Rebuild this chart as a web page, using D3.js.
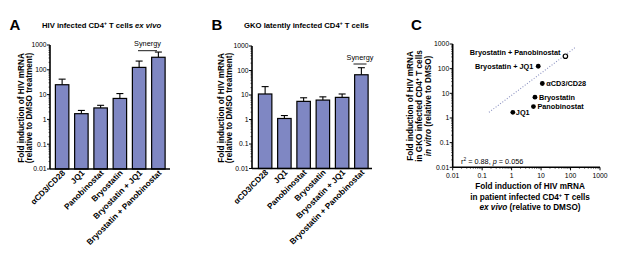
<!DOCTYPE html>
<html><head><meta charset="utf-8">
<script src="https://cdn.jsdelivr.net/npm/d3@7"></script>
<style>body{margin:0;background:#fff}svg{display:block;font-family:"Liberation Sans",Arial,sans-serif}</style>
</head><body><svg id="c" width="617" height="263"></svg>
<script>
const categories = ["\u03B1CD3/CD28","JQ1","Panobinostat","Bryostatin","Bryostatin + JQ1","Bryostatin + Panobinostat"];
const patientMean = [25, 1.7, 2.9, 7, 125, 320];
const patientErr  = [42, 2.3, 3.7, 11, 225, 520];
const gkoMean = [11, 1.1, 5.5, 6.2, 8, 67];
const gkoErr  = [22, 1.45, 7.7, 8.4, 11, 130];
const logTicks = [0.01, 0.1, 1, 10, 100, 1000];
const tickLabels = ["0.01","0.1","1","10","100","1000"];
const fitLineX = [0.17, 144];
const fitLineY = [1.7, 720];

const svg = d3.select("#c");
const barColor = "#7f87c3";

function minorVals(){const v=[];for(let e=-2;e<3;e++){for(let m=2;m<10;m++)v.push(m*Math.pow(10,e));}return v;}

function yAxis(g, y, x0){
  g.append("line").attr("x1",x0).attr("x2",x0).attr("y1",y.range()[0]).attr("y2",y.range()[1]).attr("stroke","#000").attr("stroke-width",1.6);
  minorVals().forEach(v=>g.append("line").attr("x1",x0-1.5).attr("x2",x0).attr("y1",y(v)).attr("y2",y(v)).attr("stroke","#000").attr("stroke-width",0.6));
  logTicks.forEach((v,i)=>{
    g.append("line").attr("x1",x0-3).attr("x2",x0).attr("y1",y(v)).attr("y2",y(v)).attr("stroke","#000").attr("stroke-width",1);
    g.append("text").attr("x",x0-3.5).attr("y",y(v)+2.4).attr("text-anchor","end").attr("font-size",6.8).text(tickLabels[i]);
  });
}

function barPanel(opt){
  const g = svg.append("g");
  const y = d3.scaleLog().domain([0.01,1000]).range([opt.yb, opt.yt]);
  const x = d3.scaleBand().domain(categories).range([opt.bx0, opt.bx1]).paddingInner(0.3).paddingOuter(0.15);
  categories.forEach((c,i)=>{
    const cx = x(c)+x.bandwidth()/2;
    g.append("line").attr("x1",cx).attr("x2",cx).attr("y1",y(opt.mean[i])).attr("y2",y(opt.err[i])).attr("stroke","#000").attr("stroke-width",1.1);
    g.append("line").attr("x1",cx-3.5).attr("x2",cx+3.5).attr("y1",y(opt.err[i])).attr("y2",y(opt.err[i])).attr("stroke","#000").attr("stroke-width",1.1);
    g.append("rect").attr("x",x(c)).attr("width",x.bandwidth()).attr("y",y(opt.mean[i])).attr("height",y(0.01)-y(opt.mean[i]))
      .attr("fill",barColor).attr("stroke","#000").attr("stroke-width",1.2);
    g.append("text").attr("transform",`translate(${cx+3.5},${opt.yb+4.5}) rotate(-45)`).attr("text-anchor","end")
      .attr("font-size",8.2).attr("font-weight","bold").text(c);
  });
  g.append("line").attr("x1",opt.ax).attr("x2",opt.ax1).attr("y1",opt.yb).attr("y2",opt.yb).attr("stroke","#000").attr("stroke-width",1.6);
  yAxis(g, y, opt.ax);
  g.append("line").attr("x1",opt.syn[0]).attr("x2",opt.syn[1]).attr("y1",opt.syn[2]).attr("y2",opt.syn[2]).attr("stroke","#000").attr("stroke-width",0.9);
  g.append("text").attr("x",(opt.syn[0]+opt.syn[1])/2).attr("y",opt.syn[2]-4.5).attr("text-anchor","middle").attr("font-size",7.3).text("Synergy");
  const t = g.append("text").attr("transform",`translate(${opt.tx},${opt.tyc}) rotate(-90)`).attr("text-anchor","middle").attr("font-size",8.2).attr("font-weight","bold");
  t.append("tspan").attr("x",0).attr("dy",0).text("Fold induction of HIV mRNA");
  t.append("tspan").attr("x",0).attr("dy",8.3).text("(relative to DMSO treatment)");
  g.append("text").attr("x",opt.lx).attr("y",29.5).attr("font-size",15).attr("font-weight","bold").text(opt.letter);
  const tt = g.append("text").attr("x",opt.ttx).attr("y",27.5).attr("font-size",7.7).attr("font-weight","bold");
  opt.title(tt);
}

barPanel({mean:patientMean, err:patientErr, yb:169, yt:45, bx0:52.5, bx1:168, ax:50, ax1:170,
  syn:[138,157,50.7], tx:24, tyc:108, lx:9.5, letter:"A", ttx:42,
  title:t=>{t.append("tspan").text("HIV infected CD4");t.append("tspan").attr("font-size",5).attr("dy",-3).text("+");
    t.append("tspan").attr("dy",3).text(" T cells ");t.append("tspan").attr("font-style","italic").text("ex vivo");}});
barPanel({mean:gkoMean, err:gkoErr, yb:168.5, yt:46, bx0:255.5, bx1:371, ax:252, ax1:372,
  syn:[353.5,366.5,64], tx:224, tyc:108, lx:211.5, letter:"B", ttx:244,
  title:t=>{t.append("tspan").text("GKO latently infected CD4");t.append("tspan").attr("font-size",5).attr("dy",-3).text("+");
    t.append("tspan").attr("dy",3).text(" T cells");}});

(function(){
  const g = svg.append("g");
  const x = d3.scaleLog().domain([0.01,1000]).range([452.7,600]);
  const y = d3.scaleLog().domain([0.01,1000]).range([167.3,44]);
  g.append("line").attr("x1",x(fitLineX[0])).attr("y1",y(fitLineY[0])).attr("x2",x(fitLineX[1])).attr("y2",y(fitLineY[1]))
    .attr("stroke","#8a90c0").attr("stroke-width",1.1).attr("stroke-dasharray","1,1.8");
  g.append("line").attr("x1",452.7).attr("x2",600).attr("y1",167.3).attr("y2",167.3).attr("stroke","#000").attr("stroke-width",1.6);
  minorVals().forEach(v=>g.append("line").attr("x1",x(v)).attr("x2",x(v)).attr("y1",167.3).attr("y2",168.8).attr("stroke","#000").attr("stroke-width",0.6));
  logTicks.forEach((v,i)=>{
    g.append("line").attr("x1",x(v)).attr("x2",x(v)).attr("y1",167.3).attr("y2",170.3).attr("stroke","#000").attr("stroke-width",1);
    g.append("text").attr("x",x(v)).attr("y",177.5).attr("text-anchor","middle").attr("font-size",6.8).text(tickLabels[i]);
  });
  yAxis(g, y, 452.7);
  const labelPos = [
    {dx:4,dy:2.6,anchor:"start"},
    {dx:3,dy:3,anchor:"start"},
    {dx:4,dy:2,anchor:"start"},
    {dx:4,dy:2.6,anchor:"start"},
    {dx:-5,dy:2.6,anchor:"end"},
    {dx:-5,dy:-1,anchor:"end"}
  ];
  categories.forEach((c,i)=>{
    const px=x(gkoMean[i]), py=y(patientMean[i]);
    if(i===5){
      g.append("circle").attr("cx",px).attr("cy",py).attr("r",2.2).attr("fill","#fff").attr("stroke","#000").attr("stroke-width",1.2);
    } else {
      g.append("circle").attr("cx",px).attr("cy",py).attr("r",2.4).attr("fill","#000");
    }
    const lp=labelPos[i];
    g.append("text").attr("x",px+lp.dx).attr("y",py+lp.dy).attr("text-anchor",lp.anchor).attr("font-size",7.3).attr("font-weight","bold").text(c);
  });
  const r = g.append("text").attr("x",461).attr("y",164).attr("font-size",7.3);
  r.append("tspan").text("r");r.append("tspan").attr("font-size",4.8).attr("dy",-3).text("2");
  r.append("tspan").attr("dy",3).text(" = 0.88, ");r.append("tspan").attr("font-style","italic").text("p");r.append("tspan").text(" = 0.056");
  const xt = g.append("text").attr("text-anchor","middle").attr("font-size",8.2).attr("font-weight","bold");
  xt.append("tspan").attr("x",530).attr("y",189).text("Fold induction of HIV mRNA");
  xt.append("tspan").attr("x",530).attr("y",199.5).text("in patient infected CD4");
  xt.append("tspan").attr("font-size",5.5).attr("dy",-3).text("+");
  xt.append("tspan").attr("dy",3).text(" T cells");
  xt.append("tspan").attr("x",530).attr("y",209.5).attr("font-style","italic").text("ex vivo");
  xt.append("tspan").text(" (relative to DMSO)");
  const yt = g.append("text").attr("transform","translate(413,106) rotate(-90)").attr("text-anchor","middle").attr("font-size",8.2).attr("font-weight","bold");
  yt.append("tspan").attr("x",0).attr("y",0).text("Fold induction of HIV mRNA");
  yt.append("tspan").attr("x",0).attr("y",8.8).text("in GKO infected CD4");
  yt.append("tspan").attr("font-size",5.5).attr("dy",-3).text("+");
  yt.append("tspan").attr("dy",3).text(" T cells");
  yt.append("tspan").attr("x",0).attr("y",17.6).attr("font-style","italic").text("in vitro");
  yt.append("tspan").text(" (relative to DMSO)");
  g.append("text").attr("x",411).attr("y",29.5).attr("font-size",15).attr("font-weight","bold").text("C");
})();
</script></body></html>
